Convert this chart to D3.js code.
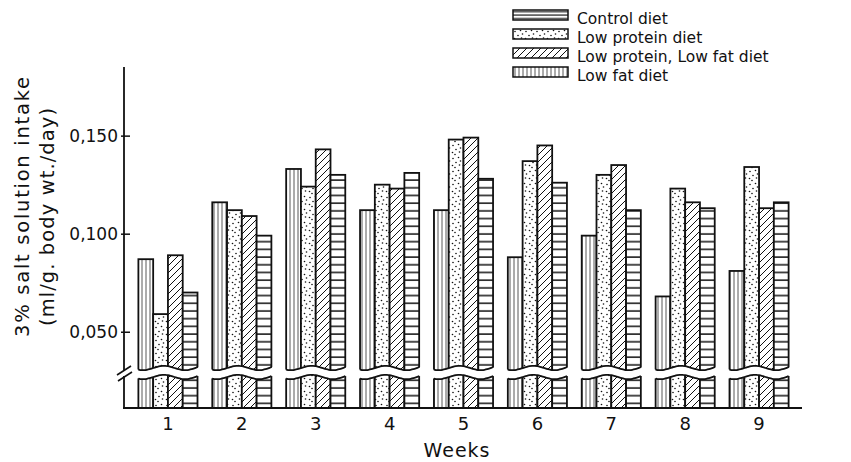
<!DOCTYPE html>
<html>
<head>
<meta charset="utf-8">
<script src="https://cdn.jsdelivr.net/npm/d3@7"></script>
<style>
  body { margin: 0; background: #fff; }
  text { font-family: "DejaVu Sans", sans-serif; fill: #111; }
</style>
</head>
<body>
<svg id="chart" width="851" height="462"></svg>
<script>
// values (ml/g body wt./day)
const weeks = ['1', '2', '3', '4', '5', '6', '7', '8', '9'];
const diets = ['Control diet', 'Low protein diet', 'Low protein, Low fat diet', 'Low fat diet'];
const control = [0.087, 0.116, 0.133, 0.112, 0.112, 0.088, 0.099, 0.068, 0.081];
const lowProtein = [0.059, 0.112, 0.124, 0.125, 0.148, 0.137, 0.130, 0.123, 0.134];
const lowProteinLowFat = [0.089, 0.109, 0.143, 0.123, 0.149, 0.145, 0.135, 0.116, 0.113];
const lowFat = [0.070, 0.099, 0.130, 0.131, 0.128, 0.126, 0.112, 0.113, 0.116];
const yTicks = [0.050, 0.100, 0.150];

const series = [control, lowProtein, lowProteinLowFat, lowFat];
const barPatterns = ['vlines', 'dots', 'diag', 'hlines'];
const legendPatterns = ['hlinesTight', 'dots', 'diag', 'vlines'];

const svg = d3.select('#chart');
const ink = '#111';

// --- hatch patterns
const defs = svg.append('defs');

const vl = defs.append('pattern').attr('id', 'vlines').attr('patternUnits', 'userSpaceOnUse')
  .attr('width', 4).attr('height', 10);
vl.append('rect').attr('width', 4).attr('height', 10).attr('fill', '#fff');
vl.append('line').attr('x1', 2).attr('x2', 2).attr('y1', 0).attr('y2', 10)
  .attr('stroke', '#444').attr('stroke-width', 0.9);

const hl = defs.append('pattern').attr('id', 'hlines').attr('patternUnits', 'userSpaceOnUse')
  .attr('width', 10).attr('height', 7.7);
hl.append('rect').attr('width', 10).attr('height', 7.7).attr('fill', '#fff');
hl.append('line').attr('x1', 0).attr('x2', 10).attr('y1', 3).attr('y2', 3)
  .attr('stroke', ink).attr('stroke-width', 1.5);

const hlt = defs.append('pattern').attr('id', 'hlinesTight').attr('patternUnits', 'userSpaceOnUse')
  .attr('width', 10).attr('height', 3.4);
hlt.append('rect').attr('width', 10).attr('height', 3.4).attr('fill', '#fff');
hlt.append('line').attr('x1', 0).attr('x2', 10).attr('y1', 1.7).attr('y2', 1.7)
  .attr('stroke', ink).attr('stroke-width', 1.1);

const dg = defs.append('pattern').attr('id', 'diag').attr('patternUnits', 'userSpaceOnUse')
  .attr('width', 7).attr('height', 7);
dg.append('rect').attr('width', 7).attr('height', 7).attr('fill', '#fff');
dg.append('path').attr('d', 'M-1,1 l2,-2 M0,7 l7,-7 M6,8 l2,-2')
  .attr('stroke', ink).attr('stroke-width', 1);

const dt = defs.append('pattern').attr('id', 'dots').attr('patternUnits', 'userSpaceOnUse')
  .attr('width', 11).attr('height', 13);
dt.append('rect').attr('width', 11).attr('height', 13).attr('fill', '#fff');
[[2, 2.5], [7.5, 1.5], [5, 6.5], [1.5, 9.5], [8.5, 9], [9.5, 5], [4, 11.5]].forEach(p => {
  dt.append('circle').attr('cx', p[0]).attr('cy', p[1]).attr('r', 0.8).attr('fill', ink);
});

// --- scales
const x = d3.scaleBand().domain(weeks).range([131, 796]).paddingInner(0.2).paddingOuter(0.1);
const xInner = d3.scaleBand().domain(d3.range(series.length)).range([0, x.bandwidth()]);
const y = d3.scaleLinear().domain([0.031, 0.185]).range([369, 67]);
const yLow = d3.scaleLinear().domain([0, 0.015]).range([408, 378]);

// --- bars
const cells = [];
weeks.forEach((w, i) => series.forEach((s, j) => cells.push({ week: w, s: j, v: s[i] })));

svg.append('g').selectAll('rect')
  .data(cells)
  .join('rect')
  .attr('x', d => x(d.week) + xInner(d.s))
  .attr('y', d => y(d.v))
  .attr('width', xInner.bandwidth())
  .attr('height', d => yLow(0) - y(d.v))
  .attr('fill', d => `url(#${barPatterns[d.s]})`)
  .attr('stroke', ink)
  .attr('stroke-width', 1.8);

// --- wavy break across each group
const wave = (x0, w, base, n) => d3.range(n + 1).map(k => {
  const t = k / n;
  return [x0 + t * w, base + 2.2 * Math.sin(t * Math.PI * 3 + 0.6)];
});
const line = d3.line().curve(d3.curveBasis);
const breaks = svg.append('g');
weeks.forEach(w => {
  const x0 = x(w) - 2, bw = x.bandwidth() + 4;
  const top = wave(x0, bw, y(0.031) - 1, 24);
  const bot = wave(x0, bw, yLow(0.015) - 1, 24);
  breaks.append('path')
    .attr('d', line(top) + 'L' + bot.slice().reverse().map(p => p.join(',')).join('L') + 'Z')
    .attr('fill', '#fff');
  [top, bot].forEach(pts => {
    breaks.append('path')
      .attr('d', line(pts.map(p => [Math.max(x0 + 2, Math.min(x0 + bw - 2, p[0])), p[1]])))
      .attr('fill', 'none').attr('stroke', ink).attr('stroke-width', 1.8);
  });
});

// --- y axis
const yAxis = svg.append('g').attr('transform', 'translate(124,0)')
  .call(d3.axisLeft(y).tickValues(yTicks).tickSizeInner(-6).tickSizeOuter(0).tickPadding(6)
    .tickFormat(d => d3.format('.3f')(d).replace('.', ',')));
yAxis.select('.domain').attr('stroke', ink).attr('stroke-width', 1.8);
yAxis.selectAll('.tick line').attr('x1', -3).attr('stroke', ink).attr('stroke-width', 1.5);
yAxis.selectAll('.tick text').attr('font-size', 17).attr('font-family', '"DejaVu Sans", sans-serif')
  .attr('fill', ink);
yAxis.select('.domain').attr('d', `M0,${y(0.031) + 2}V67`);

svg.append('line')
  .attr('x1', 124).attr('x2', 124).attr('y1', yLow(0.015) - 2).attr('y2', yLow(0))
  .attr('stroke', ink).attr('stroke-width', 1.8);
svg.append('path')
  .attr('d', 'M117,375 L131,366 M118,381 L132,372')
  .attr('stroke', ink).attr('stroke-width', 1.6).attr('fill', 'none');

// --- x axis
svg.append('line')
  .attr('x1', 123).attr('x2', 802).attr('y1', yLow(0)).attr('y2', yLow(0))
  .attr('stroke', ink).attr('stroke-width', 2);
const xAxis = svg.append('g').attr('transform', `translate(0,${yLow(0)})`)
  .call(d3.axisBottom(x).tickSize(0).tickPadding(9));
xAxis.select('.domain').remove();
xAxis.selectAll('.tick text').attr('font-size', 18).attr('font-family', '"DejaVu Sans", sans-serif')
  .attr('fill', ink);

svg.append('text')
  .attr('x', 457).attr('y', 457)
  .attr('text-anchor', 'middle')
  .attr('font-size', 19)
  .attr('letter-spacing', 1)
  .text('Weeks');

// --- y title
svg.append('text')
  .attr('transform', 'translate(29,207) rotate(-90)')
  .attr('text-anchor', 'middle')
  .attr('font-size', 19.5)
  .attr('textLength', 260)
  .attr('lengthAdjust', 'spacing')
  .text('3% salt solution intake');
svg.append('text')
  .attr('transform', 'translate(54,217) rotate(-90)')
  .attr('text-anchor', 'middle')
  .attr('font-size', 19.5)
  .attr('textLength', 218)
  .attr('lengthAdjust', 'spacing')
  .text('(ml/g. body wt./day)');

// --- legend
const legend = svg.append('g').selectAll('g')
  .data(diets)
  .join('g')
  .attr('transform', (d, i) => `translate(513,${10 + i * 19})`);
legend.append('rect')
  .attr('width', 55).attr('height', 10)
  .attr('fill', (d, i) => `url(#${legendPatterns[i]})`)
  .attr('stroke', ink).attr('stroke-width', 1.5);
legend.append('text')
  .attr('x', 64).attr('y', 14)
  .attr('font-size', 15.5)
  .text(d => d);
</script>
</body>
</html>
